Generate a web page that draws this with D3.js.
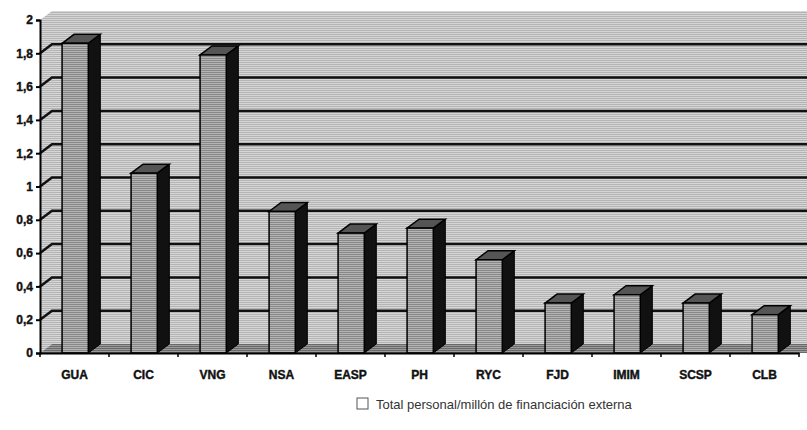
<!DOCTYPE html>
<html lang="es">
<head>
<meta charset="UTF-8">
<title>Total personal/millón de financiación externa</title>
<script src="https://d3js.org/d3.v7.min.js"></script>
<style>
  body { margin: 0; background: #fff; }
  .tick-lbl { font-family: "Liberation Sans", Arial, sans-serif; font-weight: bold; font-size: 12px; fill: #111; stroke: #111; stroke-width: 0.4px; }
  .legend { font-family: "Liberation Sans", Arial, sans-serif; font-size: 13px; fill: #333; }
</style>
</head>
<body>
<div id="chart"></div>
<script>
// datos
const categories = ['GUA', 'CIC', 'VNG', 'NSA', 'EASP', 'PH', 'RYC', 'FJD', 'IMIM', 'SCSP', 'CLB'];
const values = [1.86, 1.08, 1.79, 0.85, 0.72, 0.75, 0.56, 0.30, 0.35, 0.30, 0.23];
const yTicks = [0, 0.2, 0.4, 0.6, 0.8, 1, 1.2, 1.4, 1.6, 1.8, 2];
const yTickLabels = ['0', '0,2', '0,4', '0,6', '0,8', '1', '1,2', '1,4', '1,6', '1,8', '2'];
const seriesName = 'Total personal/millón de financiación externa';

const W = 807, H = 430;
const depthX = 12, depthY = -9;   // profundidad 3D

const svg = d3.select('#chart').append('svg')
  .attr('width', W).attr('height', H);

// texturas tipo trama de impresión
const defs = svg.append('defs');
function stripes(id, a, b) {
  const p = defs.append('pattern').attr('id', id)
    .attr('width', 3).attr('height', 2).attr('patternUnits', 'userSpaceOnUse');
  p.append('rect').attr('width', 3).attr('height', 2).attr('fill', a);
  p.append('rect').attr('width', 3).attr('height', 1).attr('fill', b);
}
stripes('wall', '#d6d6d6', '#b4b4b4');
stripes('face', '#b4b4b4', '#888');
stripes('floor', '#9a9a9a', '#6a6a6a');

const x = d3.scaleBand().domain(categories).range([40, 799]);
const y = d3.scaleLinear().domain([0, 2]).range([353, 20]);

const x0 = x.range()[0], x1 = x.range()[1];
const yBot = y(0), yTop = y(2);

// pared trasera
svg.append('rect')
  .attr('x', x0 + depthX).attr('y', yTop + depthY)
  .attr('width', W - (x0 + depthX)).attr('height', yBot - yTop)
  .attr('fill', 'url(#wall)');

// pared lateral
svg.append('path')
  .attr('d', `M${x0},${yTop} L${x0 + depthX},${yTop + depthY} L${x0 + depthX},${yBot + depthY} L${x0},${yBot} Z`)
  .attr('fill', 'url(#wall)');

// suelo
svg.append('path')
  .attr('d', `M${x0},${yBot} L${x0 + depthX},${yBot + depthY} L${W},${yBot + depthY} L${W},${yBot} Z`)
  .attr('fill', 'url(#floor)');

// líneas de división (sin la del máximo)
const grid = svg.append('g');
yTicks.slice(1, -1).forEach(t => {
  grid.append('path')
    .attr('d', `M${x0},${y(t)} L${x0 + depthX},${y(t) + depthY} L${W},${y(t) + depthY}`)
    .attr('fill', 'none').attr('stroke', '#111').attr('stroke-width', 2.5);
});

// barras 3D
const bw = x.bandwidth() * 0.38, boff = x.bandwidth() * 0.32;
const bars = svg.append('g').selectAll('g').data(categories).enter().append('g');
bars.each(function (c, i) {
  const g = d3.select(this);
  const bx = x(c) + boff, by = y(values[i]);
  // lateral
  g.append('path')
    .attr('d', `M${bx + bw},${by} L${bx + bw + depthX},${by + depthY} L${bx + bw + depthX},${yBot + depthY} L${bx + bw},${yBot} Z`)
    .attr('fill', '#111').attr('stroke', '#000').attr('stroke-width', 1);
  // tapa
  g.append('path')
    .attr('d', `M${bx},${by} L${bx + depthX},${by + depthY} L${bx + bw + depthX},${by + depthY} L${bx + bw},${by} Z`)
    .attr('fill', '#555').attr('stroke', '#000').attr('stroke-width', 1.5);
  // frente
  g.append('rect')
    .attr('x', bx).attr('y', by).attr('width', bw).attr('height', yBot - by)
    .attr('fill', 'url(#face)').attr('stroke', '#000').attr('stroke-width', 1.5);
});

// eje Y
const yAxis = d3.axisLeft(y).tickValues(yTicks)
  .tickFormat((d, i) => yTickLabels[i]).tickSize(4).tickPadding(3);
const gy = svg.append('g').attr('transform', `translate(${x0},0)`).call(yAxis);
gy.select('.domain').attr('stroke', '#000').attr('stroke-width', 2);
gy.selectAll('.tick line').attr('stroke', '#000').attr('stroke-width', 2);
gy.selectAll('.tick text').attr('class', 'tick-lbl');

// eje X
const xAxis = d3.axisBottom(x).tickSize(0).tickPadding(17);
const gx = svg.append('g').attr('transform', `translate(0,${yBot})`).call(xAxis);
gx.select('.domain').attr('stroke', '#000').attr('stroke-width', 2);
gx.selectAll('.tick text').attr('class', 'tick-lbl');
// marcas entre categorías
gx.selectAll('.sep').data(categories.concat(['_end'])).enter().append('line')
  .attr('x1', (d, i) => i < categories.length ? x(d) : x1)
  .attr('x2', (d, i) => i < categories.length ? x(d) : x1)
  .attr('y1', 0).attr('y2', 4).attr('stroke', '#000').attr('stroke-width', 1.5);

// leyenda
const lg = svg.append('g').attr('transform', 'translate(357,398)');
lg.append('rect').attr('width', 11).attr('height', 11)
  .attr('fill', '#fff').attr('stroke', '#555').attr('stroke-width', 1);
lg.append('text').attr('class', 'legend').attr('x', 19).attr('y', 10.5).text(seriesName);
</script>
</body>
</html>
